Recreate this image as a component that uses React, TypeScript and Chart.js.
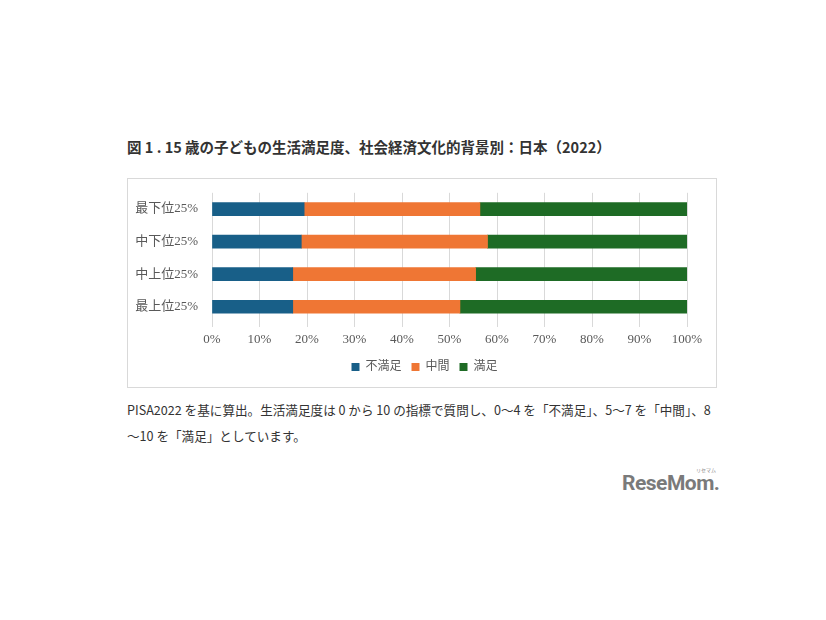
import React, { useEffect, useRef } from "react";
import { Chart, registerables } from "chart.js";

Chart.register(...registerables);

const categories = ["最下位25%", "中下位25%", "中上位25%", "最上位25%"];
const dissatisfied = [19.4, 18.8, 17.0, 17.0];
const neutral = [37.0, 39.2, 38.5, 35.2];
const satisfied = [43.6, 42.0, 44.5, 47.8];
const seriesNames = ["不満足", "中間", "満足"];
const xTickValues = [0, 10, 20, 30, 40, 50, 60, 70, 80, 90, 100];

const colors = ["#185f88", "#ef7634", "#1e6b25"];
const chartFont = "'Liberation Serif', 'Noto Sans CJK JP', serif";

const legendShift = {
  id: "legendShift",
  afterLayout(chart: any) {
    if (chart.legend) {
      chart.legend.left += 17;
      chart.legend.right += 17;
    }
  },
};

function ChartBox() {
  const ref = useRef<HTMLCanvasElement | null>(null);
  useEffect(() => {
    if (!ref.current) return;
    const chart = new Chart(ref.current, {
      type: "bar",
      data: {
        labels: categories,
        datasets: [dissatisfied, neutral, satisfied].map((d, i) => ({
          label: seriesNames[i],
          data: d,
          backgroundColor: colors[i],
          borderWidth: 0,
          barThickness: 13,
        })),
      },
      plugins: [legendShift],
      options: {
        indexAxis: "y",
        animation: false,
        responsive: false,
        layout: { padding: { left: 0, right: 29, top: 11, bottom: 4 } },
        plugins: {
          tooltip: { enabled: false },
          legend: {
            position: "bottom",
            labels: {
              boxWidth: 8,
              boxHeight: 8,
              padding: 10,
              color: "#595959",
              font: { family: chartFont, size: 12 },
            },
          },
        },
        scales: {
          x: {
            stacked: true,
            min: 0,
            max: 100,
            afterBuildTicks: (axis: any) => {
              axis.ticks = xTickValues.map((v) => ({ value: v }));
            },
            afterFit: (axis: any) => {
              axis.height = 28;
            },
            ticks: {
              padding: 5,
              color: "#595959",
              font: { family: chartFont, size: 13 },
              callback: (v: any) => v + "%",
            },
            grid: { color: "#d9d9d9", tickLength: 4, tickColor: "#d9d9d9" },
            border: { display: false },
          },
          y: {
            stacked: true,
            afterFit: (axis: any) => {
              axis.width = 84;
            },
            ticks: {
              padding: 6,
              color: "#595959",
              font: { family: chartFont, size: 13 },
            },
            grid: { display: false },
            border: { display: false },
          },
        },
      },
    });
    return () => chart.destroy();
  }, []);
  return <canvas ref={ref} width={588} height={208} style={{ display: "block" }} />;
}

export default function App() {
  return (
    <div
      style={{
        position: "fixed",
        left: 0,
        top: 0,
        width: 826,
        height: 620,
        background: "#fff",
        fontFamily: "'Noto Sans CJK JP', sans-serif",
      }}
    >
      <div
        style={{
          position: "absolute",
          left: 127,
          top: 137,
          fontSize: 14.5,
          lineHeight: "20px",
          fontWeight: "bold",
          color: "#333",
          whiteSpace: "nowrap",
        }}
      >
        図 1 . 15 歳の子どもの生活満足度、社会経済文化的背景別：日本（2022）
      </div>
      <div
        style={{
          position: "absolute",
          left: 127,
          top: 178,
          width: 590,
          height: 210,
          border: "1px solid #d9d9d9",
          boxSizing: "border-box",
        }}
      >
        <ChartBox />
      </div>
      <div
        style={{
          position: "absolute",
          left: 127,
          top: 397,
          fontSize: 12.6,
          lineHeight: "26px",
          color: "#333",
          whiteSpace: "nowrap",
        }}
      >
        PISA2022 を基に算出。生活満足度は 0 から 10 の指標で質問し、0〜4 を「不満足」、5〜7 を「中間」、8
        <br />
        〜10 を「満足」としています。
      </div>
      <div
        style={{
          position: "absolute",
          left: 622,
          top: 471,
          fontFamily: "Roboto, sans-serif",
          fontWeight: "bold",
          fontSize: 21,
          lineHeight: "24px",
          color: "#7a7a7a",
          letterSpacing: -0.5,
        }}
      >
        ReseMom.
      </div>
      <div
        style={{
          position: "absolute",
          left: 696,
          top: 466,
          fontSize: 5,
          color: "#888",
        }}
      >
        リセマム
      </div>
    </div>
  );
}
